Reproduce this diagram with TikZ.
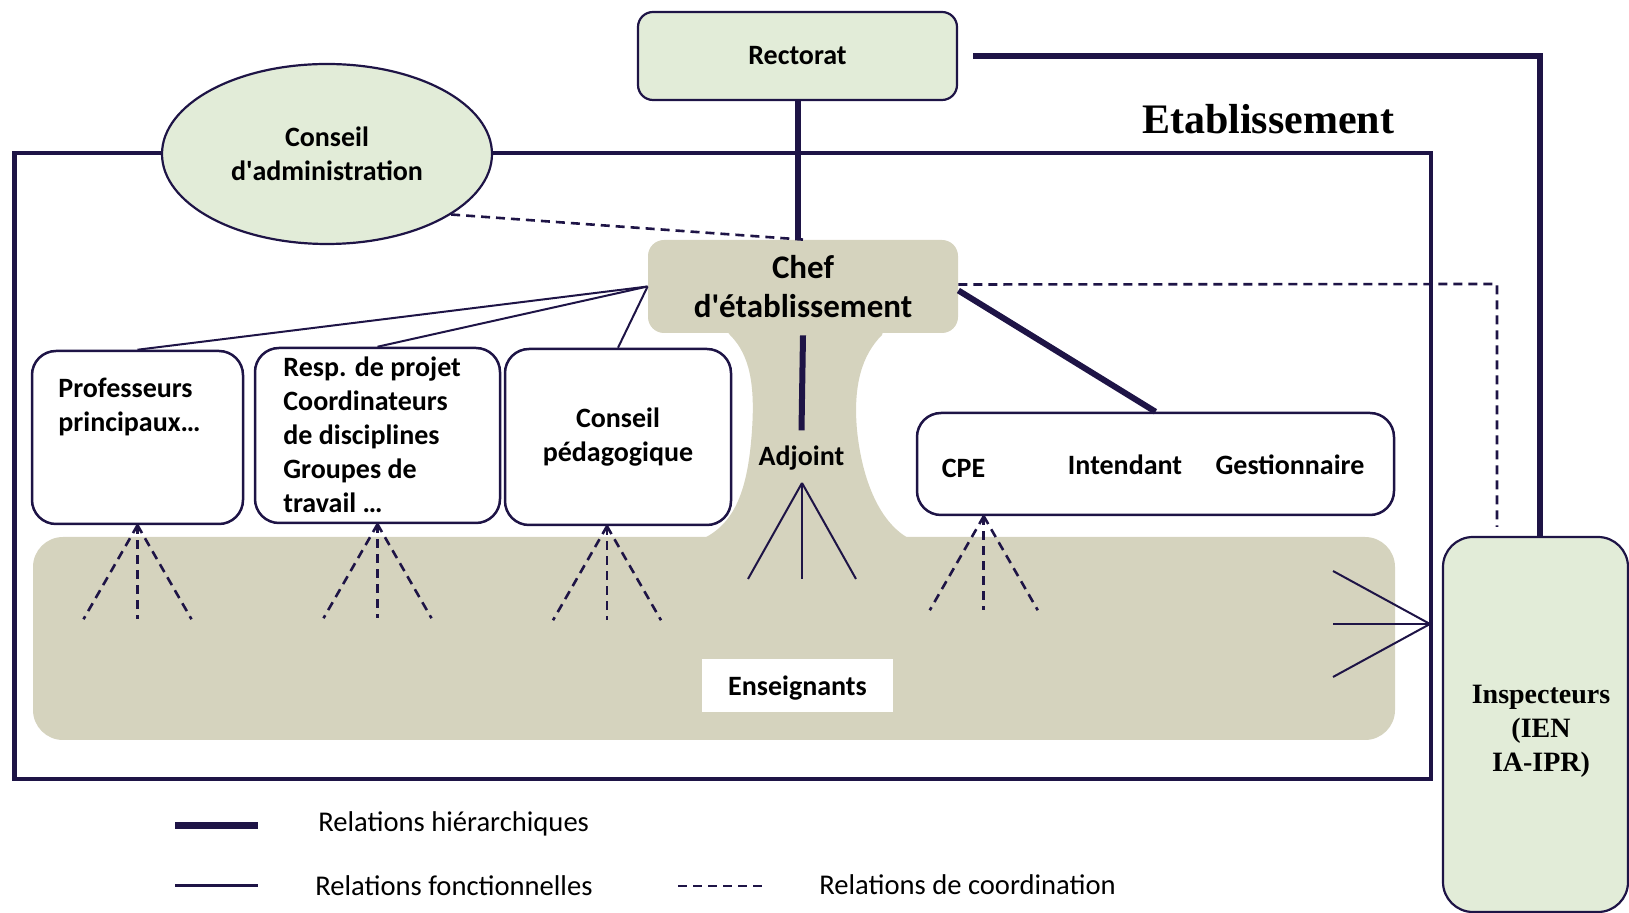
\documentclass[tikz,border=0pt]{standalone}
\usepackage{fontspec}
\setmainfont{Carlito}
\newfontfamily\serifbold{Liberation Serif}
\usetikzlibrary{shapes.geometric}
\definecolor{navy}{RGB}{30,20,70}
\definecolor{vert}{RGB}{226,236,216}
\definecolor{beige}{RGB}{213,211,190}

\begin{document}
\begin{tikzpicture}[x=0.5pt, y=-0.5pt,
      hier/.style={line width=3pt, color=navy},
      fonc/.style={line width=1pt, color=navy},
      coord/.style={line width=1.3pt, color=navy, dash pattern=on 4.5pt off 3pt},
      box/.style={draw=navy, line width=1.25pt, fill=white, rounded corners=12pt},
      greenbox/.style={draw=navy, line width=1.1pt, fill=vert},
      lbl/.style={font=\bfseries\fontsize{14}{17}\selectfont, inner sep=0pt},
      legend/.style={font=\fontsize{14.3}{17}\selectfont, inner sep=0pt, anchor=base west}
      ]
      \useasboundingbox (0,0) rectangle (1629,913);

      % etablissement
      \draw[line width=2.2pt, color=navy] (14.5,153) rectangle (1431,779);
      \node[font=\serifbold\bfseries\fontsize{21}{25}\selectfont] (etab) at (1268,119) {Etablissement};

      \node[greenbox, rounded corners=7.5pt, minimum width=159.5pt, minimum height=44pt, lbl] (rectorat) at (797.5,56) {Rectorat};
      \node[greenbox, ellipse, minimum width=165pt, minimum height=90pt, lbl, align=center] (conseilAdmin) at (327,154) {Conseil\\d\textquotesingle administration};

      % enseignants and chef
      \fill[beige, rounded corners=15pt] (33,537) rectangle (1395,740);
      \fill[beige] (722,325) -- (730,335) .. controls (750,355) and (755,385) .. (752,430)
            .. controls (748,490) and (735,525) .. (700,540) -- (912,540)
            .. controls (880,525) and (862,480) .. (857,430)
            .. controls (853,385) and (862,355) .. (882,335) -- (885,325) -- cycle;
      \node[fill=beige, rounded corners=8pt, minimum width=155pt, minimum height=46.5pt, inner sep=0pt,
            align=center, font=\bfseries\fontsize{16.5}{19.5}\selectfont] (chef) at (803,286.5) {Chef\\d\textquotesingle établissement};
      \node[fill=white, minimum width=95.5pt, minimum height=26.5pt, text depth=0pt, lbl] (enseignants) at (797.5,685.5) {Enseignants};
      \node[lbl] (adjoint) at (801.5,458) {Adjoint};

      % boxes
      \node[box, minimum width=105.5pt, minimum height=86.5pt] (prof) at (137.5,437.5) {};
      \node[lbl, anchor=north west, align=left] (profTxt) at (58,378) {Professeurs\\principaux…};
      \node[box, minimum width=122.5pt, minimum height=87.5pt] (resp) at (377.5,435.5) {};
      \node[lbl, anchor=north west, align=left] (respTxt) at (283,356) {Resp. de projet\\Coordinateurs\\de disciplines\\Groupes de\\travail …};
      \node[box, minimum width=113pt, minimum height=88pt, lbl, align=center] (conseilPeda) at (618,437) {Conseil\\pédagogique};
      \node[box, minimum width=238.5pt, minimum height=51pt] (vie) at (1155.5,464) {};
      \node[lbl] (cpe) at (963.5,468) {CPE};
      \node[lbl] (intendant) at (1125,465) {Intendant};
      \node[lbl] (gestionnaire) at (1290,465) {Gestionnaire};

      \node[greenbox, rounded corners=15pt, minimum width=92.5pt, minimum height=187.5pt] (inspecteurs) at (1535.5,724.5) {};
      \node[align=center, inner sep=0pt, font=\serifbold\bfseries\fontsize{14}{17}\selectfont] (inspTxt) at (1541,731) {Inspecteurs\\(IEN\\IA-IPR)};

      % hierarchical relations
      \draw[hier] (rectorat.south) -- (rectorat.south |- chef.north);
      \draw[hier] ([xshift=7.5pt]rectorat.east) -| ([xshift=2.25pt]inspecteurs.north);
      \draw[hier] ([yshift=-2pt]chef.east) -- (vie.north);
      \draw[hier] ([yshift=-1pt]chef.south) -- ([yshift=7.5pt]adjoint.north);

      % functional relations
      \draw[fonc] (chef.west) -- (prof.north);
      \draw[fonc] (chef.west) -- (resp.north);
      \draw[fonc] (chef.west) -- (conseilPeda.north);
      \coordinate (adjApex) at (802,483);
      \foreach \dx in {-27,0,27}
        \draw[fonc] (adjApex) -- ++(\dx*1pt,-48pt);
      \coordinate (inspApex) at (1430,624);
      \foreach \dy in {-26.5,0,26.5}
        \draw[fonc] (inspApex) -- ++(-48.5pt,\dy*1pt);

      % coordination
      \draw[coord] (conseilAdmin.-26) -- (chef.north);
      \coordinate (coordTurn) at (1497,284);
      \coordinate (coordDown) at (coordTurn |- inspecteurs.north);
      \draw[coord] ([yshift=1pt]chef.east) -- (coordTurn) -- ([yshift=4.5pt]coordDown);
      \coordinate (profFoot) at (prof.south);
      \coordinate (respFoot) at (resp.south);
      \coordinate (pedaFoot) at ([xshift=-5.5pt]conseilPeda.south);
      \coordinate (cpeFoot) at ([xshift=34pt]vie.south west);
      \foreach \foot in {profFoot,respFoot,pedaFoot,cpeFoot}
        \foreach \dx in {-27,0,27}
          \draw[coord] (\foot) -- ++(\dx*1pt,-47pt);

      % legend
      \draw[line width=3.5pt, color=navy] (175,826) -- (258,826);
      \node[legend] (legHier) at (318,832) {Relations hiérarchiques};
      \draw[line width=1.5pt, color=navy] (175,886) -- (258,886);
      \node[legend] (legFonc) at (315,896) {Relations fonctionnelles};
      \draw[coord] (678,886) -- (762,886);
      \node[legend] (legCoord) at (819,895) {Relations de coordination};
\end{tikzpicture}
\end{document}
